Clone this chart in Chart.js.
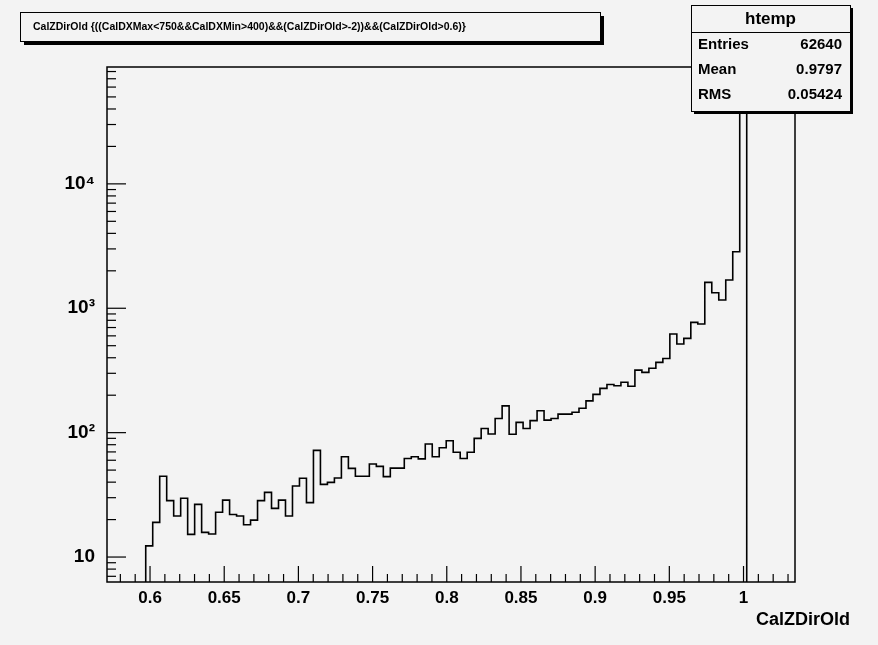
<!DOCTYPE html>
<html>
<head>
<meta charset="utf-8">
<script src="https://cdn.jsdelivr.net/npm/chart.js@4"></script>
<style>
  body { margin: 0; background: #f3f3f3; }
  canvas { display: block; }
</style>
</head>
<body>
<canvas id="c" width="878" height="645"></canvas>
<script>
// histogram: CalZDirOld, 86 filled bins starting at binStart
const binStart = 0.5971;
const binWidth = 0.00471;
const counts = [
  12.3, 19, 44.6, 28.4, 21.4, 29.7, 15.2, 26.5, 15.8, 15.3,
  22.9, 28.7, 22, 21.4, 18.2, 19.8, 28.4, 33.1, 24.6, 28.7,
  21.4, 37.2, 43, 27.4, 72, 38.4, 39.8, 43.2, 64, 51.6,
  44.6, 44.6, 56, 53.6, 44.3, 51.9, 51.9, 62, 64, 61.5,
  81, 64, 75.7, 86, 69.5, 62, 69.5, 90, 108, 97.5,
  130, 164, 97, 121, 108, 125, 150, 126, 130, 141,
  141, 146, 157, 180, 203, 227, 244, 238, 254, 236,
  318, 305, 329, 367, 395, 621, 516, 573, 770, 747,
  1614, 1333, 1164, 1687, 2845, 50000
];
const xTicks = [0.6, 0.65, 0.7, 0.75, 0.8, 0.85, 0.9, 0.95, 1];
const yTicks = [10, 100, 1000, 10000];
const yTickLabels = ["10", "10²", "10³", "10⁴"];
const xMin = 0.571, xMax = 1.0347, yMin = 6.3, yMax = 87000;

// outline points of the histogram
const pts = [{ x: binStart, y: yMin }];
counts.forEach((v, i) => {
  pts.push({ x: binStart + i * binWidth, y: v });
  pts.push({ x: binStart + (i + 1) * binWidth, y: v });
});
pts.push({ x: binStart + counts.length * binWidth, y: yMin });

const rootFrame = {
  id: "rootFrame",
  afterDraw(chart) {
    const ctx = chart.ctx, a = chart.chartArea;
    const xs = chart.scales.x, ys = chart.scales.y;
    ctx.save();
    ctx.strokeStyle = "#000";
    ctx.lineWidth = 1.5;
    ctx.strokeRect(a.left, a.top, a.right - a.left, a.bottom - a.top);
    // x ticks
    ctx.lineWidth = 1.2;
    for (let k = -3; k <= 43; k++) {
      const v = 0.6 + k * 0.01;
      if (v < xMin || v > xMax) continue;
      const px = xs.getPixelForValue(v);
      const len = (k % 5 === 0) ? 16 : 8;
      ctx.beginPath(); ctx.moveTo(px, a.bottom); ctx.lineTo(px, a.bottom - len); ctx.stroke();
    }
    ctx.fillStyle = "#000";
    ctx.font = "bold 17px 'Liberation Sans', Arial";
    ctx.textAlign = "center"; ctx.textBaseline = "top";
    xTicks.forEach(v => ctx.fillText(String(v), xs.getPixelForValue(v), a.bottom + 8));
    // y ticks
    for (let d = 0; d <= 4; d++) {
      for (let m = 1; m <= 9; m++) {
        const v = m * Math.pow(10, d);
        if (v < yMin || v > yMax) continue;
        const py = ys.getPixelForValue(v);
        const len = m === 1 ? 19 : 9;
        ctx.beginPath(); ctx.moveTo(a.left, py); ctx.lineTo(a.left + len, py); ctx.stroke();
      }
    }
    ctx.textAlign = "right"; ctx.textBaseline = "middle";
    ctx.font = "bold 19px 'Liberation Sans', Arial";
    yTicks.forEach((v, i) => ctx.fillText(yTickLabels[i], a.left - 12, ys.getPixelForValue(v)));
    // axis title
    ctx.font = "bold 18px 'Liberation Sans', Arial";
    ctx.textAlign = "right"; ctx.textBaseline = "top";
    ctx.fillText("CalZDirOld", 850, 611);
    // title box
    ctx.fillStyle = "#000";
    ctx.fillRect(24, 16, 580, 29);
    ctx.fillStyle = "#f3f3f3";
    ctx.fillRect(20, 12, 580, 29);
    ctx.lineWidth = 1;
    ctx.strokeRect(20.5, 12.5, 580, 29);
    ctx.fillStyle = "#000";
    ctx.font = "bold 10.5px 'Liberation Sans', Arial";
    ctx.textAlign = "left"; ctx.textBaseline = "middle";
    ctx.fillText("CalZDirOld {((CalDXMax<750&&CalDXMin>400)&&(CalZDirOld>-2))&&(CalZDirOld>0.6)}", 33, 27);
    // stats box
    const bx = 691, by = 5, bw = 159, bh = 106;
    ctx.fillRect(bx + 3, by + 3, bw, bh);
    ctx.fillStyle = "#f3f3f3";
    ctx.fillRect(bx, by, bw, bh);
    ctx.strokeRect(bx + 0.5, by + 0.5, bw, bh);
    ctx.beginPath(); ctx.moveTo(bx, 32.5); ctx.lineTo(bx + bw, 32.5); ctx.stroke();
    ctx.fillStyle = "#000";
    ctx.font = "bold 17px 'Liberation Sans', Arial";
    ctx.textAlign = "center";
    ctx.fillText("htemp", bx + bw / 2, 19);
    ctx.font = "bold 15px 'Liberation Sans', Arial";
    [["Entries", "62640"], ["Mean", "0.9797"], ["RMS", "0.05424"]].forEach((r, i) => {
      const yy = 45 + i * 25;
      ctx.textAlign = "left"; ctx.fillText(r[0], bx + 7, yy);
      ctx.textAlign = "right"; ctx.fillText(r[1], bx + bw - 8, yy);
    });
    ctx.restore();
  }
};

new Chart(document.getElementById("c"), {
  type: "line",
  data: {
    datasets: [{
      data: pts,
      borderColor: "#000",
      borderWidth: 1.6,
      pointRadius: 0,
      fill: false,
      tension: 0
    }]
  },
  options: {
    responsive: false,
    animation: false,
    layout: { padding: { left: 107, top: 67, right: 83, bottom: 63 } },
    plugins: { legend: { display: false }, tooltip: { enabled: false } },
    scales: {
      x: { type: "linear", min: xMin, max: xMax, display: false },
      y: { type: "logarithmic", min: yMin, max: yMax, display: false }
    }
  },
  plugins: [rootFrame]
});
</script>
</body>
</html>
